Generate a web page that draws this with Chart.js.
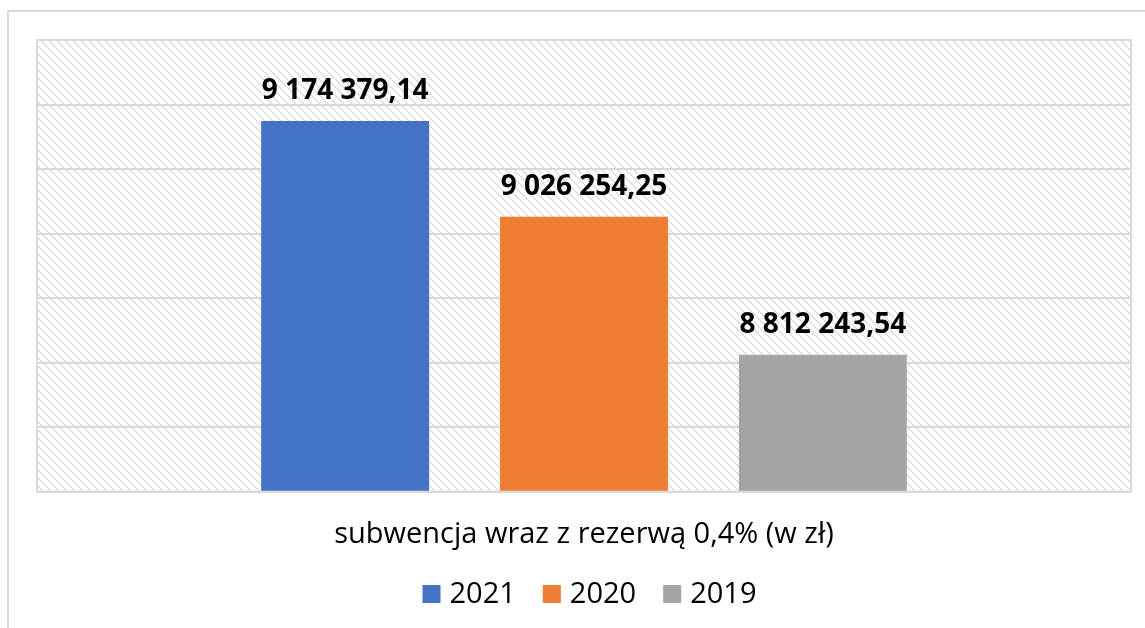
<!DOCTYPE html>
<html>
<head>
<meta charset="utf-8">
<script src="https://cdn.jsdelivr.net/npm/chart.js@4/dist/chart.umd.min.js"></script>
<style>
  html, body { margin: 0; padding: 0; background: #fff; overflow: hidden; }
  #wrap { position: relative; width: 1145px; height: 628px; }
  #frame { position: absolute; left: 7px; top: 10px; width: 1200px; height: 700px; border: 2px solid #d9d9d9; box-sizing: border-box; }
  canvas { position: absolute; left: 0; top: 0; }
</style>
</head>
<body>
<div id="wrap">
  <div id="frame"></div>
  <canvas id="chart" width="1145" height="628"></canvas>
</div>
<script>
  // data
  const categories = ["subwencja wraz z rezerwą 0,4% (w zł)"];
  const years = ["2021", "2020", "2019"];
  const values2021 = [9174379.14];
  const values2020 = [9026254.25];
  const values2019 = [8812243.54];
  const colors = ["#4472C4", "#ED7D31", "#A5A5A5"];
  const yMin = 8600000;
  const yMax = 9300000;
  const yStep = 100000;

  const FONT = "'Open Sans'";

  // "9 174 379,14"
  function fmtPL(v) {
    const parts = v.toFixed(2).split(".");
    const int = parts[0].replace(/\B(?=(\d{3})+(?!\d))/g, " ");
    return int + "," + parts[1];
  }

  // diagonal hatch for the plot background
  function makeHatch() {
    const c = document.createElement("canvas");
    c.width = 8;
    c.height = 8;
    const g = c.getContext("2d");
    g.fillStyle = "#ffffff";
    g.fillRect(0, 0, 8, 8);
    g.strokeStyle = "#d6d6d6";
    g.lineWidth = 1.2;
    g.beginPath();
    g.moveTo(-1, -1);
    g.lineTo(9, 9);
    g.moveTo(-5, 3);
    g.lineTo(5, 13);
    g.moveTo(3, -5);
    g.lineTo(13, 5);
    g.stroke();
    return g.createPattern(c, "repeat");
  }

  const plotBg = {
    id: "plotBg",
    beforeDraw(chart) {
      const { ctx, chartArea: a } = chart;
      ctx.save();
      ctx.fillStyle = makeHatch();
      ctx.fillRect(a.left, a.top, a.right - a.left, a.bottom - a.top);
      ctx.restore();
    },
    afterDraw(chart) {
      const { ctx, chartArea: a } = chart;
      ctx.save();
      ctx.strokeStyle = "#d9d9d9";
      ctx.lineWidth = 2;
      ctx.strokeRect(a.left, a.top, a.right - a.left, a.bottom - a.top);
      ctx.restore();
    },
  };

  const valueLabels = {
    id: "valueLabels",
    afterDatasetsDraw(chart) {
      const { ctx } = chart;
      ctx.save();
      ctx.font = "bold 28px " + FONT;
      ctx.fillStyle = "#000";
      ctx.textAlign = "center";
      ctx.textBaseline = "alphabetic";
      chart.data.datasets.forEach((ds, i) => {
        const meta = chart.getDatasetMeta(i);
        meta.data.forEach((bar, j) => {
          ctx.fillText(fmtPL(ds.data[j]), bar.x, bar.y - 22);
        });
      });
      ctx.restore();
    },
  };

  // legend drawn by hand: box, small gap, text, gap between items
  const bottomLegend = {
    id: "bottomLegend",
    afterDraw(chart) {
      const { ctx, chartArea: a } = chart;
      const box = 18, gap = 9, itemGap = 27, cy = 594;
      ctx.save();
      ctx.font = "29px " + FONT;
      ctx.textBaseline = "middle";
      ctx.textAlign = "left";
      const items = chart.data.datasets.map((ds) => ({
        text: ds.label,
        color: ds.backgroundColor,
        w: box + gap + ctx.measureText(ds.label).width,
      }));
      const total = items.reduce((s, it) => s + it.w, 0) + itemGap * (items.length - 1);
      let x = (a.left + a.right) / 2 - total / 2 + 5.5;
      items.forEach((it) => {
        ctx.fillStyle = it.color;
        ctx.fillRect(x, cy - box / 2, box, box);
        ctx.fillStyle = "#000";
        ctx.fillText(it.text, x + box + gap, cy + 1);
        x += it.w + itemGap;
      });
      ctx.restore();
    },
  };

  new Chart(document.getElementById("chart"), {
    type: "bar",
    data: {
      labels: categories,
      datasets: [
        { label: years[0], data: values2021, backgroundColor: colors[0] },
        { label: years[1], data: values2020, backgroundColor: colors[1] },
        { label: years[2], data: values2019, backgroundColor: colors[2] },
      ],
    },
    options: {
      responsive: false,
      animation: false,
      categoryPercentage: 0.655,
      barPercentage: 0.703,
      layout: { padding: { top: 40, left: 37, right: 14, bottom: 58.5 } },
      plugins: {
        tooltip: { enabled: false },
        legend: { display: false },
      },
      scales: {
        x: {
          grid: { display: false },
          border: { display: false },
          ticks: {
            color: "#000",
            padding: 17.5,
            font: { family: FONT, size: 29 },
          },
        },
        y: {
          min: yMin,
          max: yMax,
          ticks: { display: false, stepSize: yStep },
          border: { display: false },
          grid: { color: "#d9d9d9", lineWidth: 2, drawTicks: false },
        },
      },
    },
    plugins: [plotBg, valueLabels, bottomLegend],
  });
</script>
</body>
</html>
